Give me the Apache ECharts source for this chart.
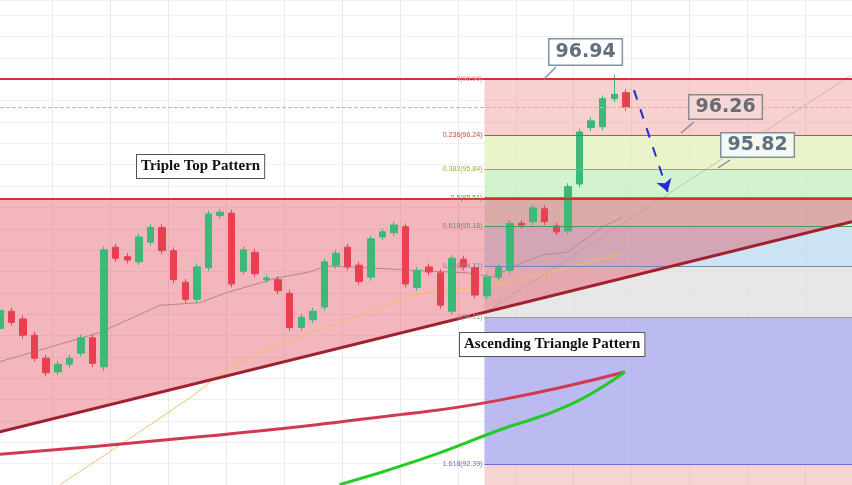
<!DOCTYPE html><html><head><meta charset="utf-8"><script src="https://cdn.jsdelivr.net/npm/echarts@6/dist/echarts.min.js"></script>
<style>html,body{margin:0;padding:0;background:#fff;overflow:hidden;width:852px;height:485px}#c{position:absolute;left:-6px;top:0;width:858px;height:485px}</style></head><body><div id="c"></div><script>
// OHLC: [open, close]
const openClose = [[93.98,94.19],[94.18,94.05],[94.09,93.90],[93.90,93.63],[93.63,93.46],[93.47,93.56],[93.56,93.63],[93.69,93.87],[93.87,93.57],[93.53,94.90],
[94.93,94.80],[94.82,94.78],[94.76,95.05],[94.99,95.16],[95.16,94.89],[94.89,94.55],[94.52,94.32],[94.32,94.70],[94.69,95.32],[95.30,95.34],
[95.33,94.50],[94.65,94.90],[94.87,94.62],[94.55,94.57],[94.55,94.42],[94.39,93.99],[93.99,94.11],[94.08,94.18],[94.23,94.76],[94.72,94.86],
[94.93,94.70],[94.72,94.53],[94.58,95.03],[95.05,95.11],[95.10,95.19],[95.17,94.50],[94.46,94.66],[94.70,94.64],[94.63,94.25],[94.18,94.80],
[94.79,94.70],[94.69,94.37],[94.36,94.58],[94.58,94.69],[94.66,95.21],[95.21,95.19],[95.23,95.39],[95.38,95.23],[95.18,95.11],[95.12,95.64],
[95.67,96.28],[96.33,96.41],[96.34,96.67],[96.67,96.72],[96.74,96.57]];
const wickExtra = 0.04;
const grayMA = [[0,93.59],[8.6,93.93],[13.8,94.25],[17.2,94.28],[19.6,94.40],[23.9,94.57],[26.7,94.64],[28.2,94.71],[31.6,94.69],[35.6,94.66],[40.3,94.63],[42.5,94.58],[44.2,94.70],[46.8,94.84],[48.9,94.87],[52,95.17],[53.7,95.28]];
const orangeMA = [[5.2,92.15],[16.1,93.14],[20.1,93.53],[25.9,93.88],[31.6,94.16],[35.9,94.37],[40.3,94.45],[42.8,94.49],[53.7,94.86]];
const redMA = [[-0.5,92.50],[17.2,92.71],[34.5,92.97],[43.1,93.14],[53.9,93.47]];
const greenMA = [[29.3,92.15],[36.2,92.44],[43.1,92.79],[49.1,93.08],[53.9,93.47]];
const fibLevels = [0,0.236,0.382,0.5,0.618,0.786,1,1.618];
const fibPrices = [96.90,96.24,95.84,95.51,95.18,94.71,94.11,92.39];
const fibColors = ['#e88','#d44','#aab030','#55a040','#4a9a60','#6a8ab0','#999','#6a6ad0'];
const fibFills = ['rgba(240,150,150,0.45)','rgba(225,240,180,0.7)','rgba(200,240,195,0.8)','rgba(190,225,200,0.6)','rgba(190,220,240,0.8)','rgba(225,225,225,0.8)','rgba(175,175,240,0.85)','rgba(240,170,170,0.5)'];
const resistance = 95.50, topLine = 96.90, currentPrice = 96.57;
const triStart = [-0.5,92.75], triEnd = [73.5,95.23];
const fibStart = 41.8, xMax = 73.5, yMin = 92.146, yMax = 97.825;
const dotted = [[41.8,94.16],[73.5,96.95]];
const arrow = [[54.7,96.77],[57.6,95.58]];
const cats = Array.from({length:74},(_,i)=>i);
const ohlc = openClose.map(([o,c])=>[o,c,Math.min(o,c)-wickExtra,Math.max(o,c)+wickExtra]);
ohlc[53][3]=96.95; ohlc[9][2]=93.48;

const fibAreas = fibPrices.map((p,i)=>[{xAxis:fibStart,yAxis:p},{xAxis:xMax,yAxis:i<fibPrices.length-1?fibPrices[i+1]:yMin,itemStyle:{color:fibFills[i]}}]);
const fibLines = fibPrices.map((p,i)=>[{coord:[fibStart,p],lineStyle:{color:fibColors[i]},label:{formatter:fibLevels[i]+'('+p.toFixed(2)+')',color:fibColors[i]}},{coord:[xMax,p]}]);

const chart = echarts.init(document.getElementById('c'));
const dx = 6;
chart.setOption({
 animation:false,
 grid:{left:0,right:0,top:0,bottom:0},
 xAxis:[{type:'category',data:cats,show:false,boundaryGap:true},
        {type:'value',min:-0.5,max:xMax,interval:5,axisLabel:{show:false},axisLine:{show:false},axisTick:{show:false},splitLine:{show:true,lineStyle:{color:'#eaeaea'}}}],
 yAxis:{type:'value',min:yMin,max:yMax,axisLabel:{show:false},axisLine:{show:false},axisTick:{show:false},splitLine:{show:true,lineStyle:{color:'#f0f0f0'}},interval:0.25},
 series:[
  {type:'line',xAxisIndex:1,data:[],markArea:{silent:true,data:fibAreas},
   markLine:{silent:true,symbol:'none',lineStyle:{type:'solid',width:1},label:{position:'start',fontSize:7,distance:2},data:fibLines}},
  {type:'custom',xAxisIndex:1,renderItem:(p,api)=>{
     const pts=[api.coord([triStart[0],resistance]),api.coord([triEnd[0],resistance]),api.coord(triEnd),api.coord(triStart)];
     return {type:'polygon',shape:{points:pts},style:{fill:'rgba(225,80,95,0.42)'}};
   },data:[0],z:1},
  {type:'line',xAxisIndex:1,data:[],markLine:{silent:true,symbol:'none',label:{show:false},data:[
     [{coord:[-0.5,topLine],lineStyle:{color:'#d83030',width:2,type:'solid'}},{coord:[xMax,topLine]}],
     [{coord:[-0.5,resistance],lineStyle:{color:'#d83030',width:2,type:'solid'}},{coord:[xMax,resistance]}],
     [{coord:[-0.5,currentPrice],lineStyle:{color:'#f0a0a0',width:1,type:'dashed'}},{coord:[xMax,currentPrice]}],
     [{coord:triStart,lineStyle:{color:'#a02030',width:3,type:'solid'}},{coord:triEnd}]
  ]}},
  {type:'line',xAxisIndex:1,data:grayMA,symbol:'none',lineStyle:{color:'#b08888',width:1},z:3},
  {type:'line',xAxisIndex:1,data:orangeMA,symbol:'none',smooth:true,lineStyle:{color:'#f0c060',width:1},z:3},
  {type:'line',xAxisIndex:1,data:redMA,symbol:'none',smooth:true,lineStyle:{color:'#d03a50',width:3},z:3},
  {type:'line',xAxisIndex:1,data:greenMA,symbol:'none',smooth:true,lineStyle:{color:'#22cc22',width:3},z:3},
  {type:'line',xAxisIndex:1,data:dotted,symbol:'none',lineStyle:{color:'#999',width:1,type:'dotted'},z:3},
  {type:'line',xAxisIndex:1,data:[],z:5,markLine:{silent:true,symbol:['none','arrow'],symbolSize:12,label:{show:false},
     lineStyle:{color:'#2030d0',width:2,type:[10,10]},data:[[{coord:arrow[0]},{coord:arrow[1]}]]}},
  {type:'candlestick',xAxisIndex:0,data:ohlc,barWidth:7,itemStyle:{color:'#3cb878',color0:'#e84050',borderColor:'#3cb878',borderColor0:'#e84050',borderWidth:1},z:4}
 ],
 graphic:[
  {type:'text',left:136+dx,top:154,z:10,style:{text:'Triple Top Pattern',font:'bold 15px "Liberation Serif"',fill:'#111',backgroundColor:'#fff',borderColor:'#555',borderWidth:1,padding:[4,4]}},
  {type:'text',left:459+dx,top:332,z:10,style:{text:'Ascending Triangle Pattern',font:'bold 15px "Liberation Serif"',fill:'#111',backgroundColor:'#fff',borderColor:'#555',borderWidth:1,padding:[4,4]}},
  {type:'text',left:548+dx,top:38,z:10,style:{text:'96.94',font:'bold 19px "DejaVu Sans"',fill:'#607080',backgroundColor:'#fff',borderColor:'#8090a0',borderWidth:1.5,padding:[3,6]}},
  {type:'line',z:10,shape:{x1:556+dx,y1:67,x2:544+dx,y2:79},style:{stroke:'#8090a0',lineWidth:1.5}},
  {type:'text',left:688+dx,top:94,z:10,style:{text:'96.26',font:'bold 19px "DejaVu Sans"',fill:'#6a6a70',backgroundColor:'rgba(245,215,215,1)',borderColor:'#8a8a90',borderWidth:1.5,padding:[2,6]}},
  {type:'line',z:10,shape:{x1:694+dx,y1:122,x2:681+dx,y2:133},style:{stroke:'#8a8a90',lineWidth:1.5}},
  {type:'text',left:720+dx,top:132,z:10,style:{text:'95.82',font:'bold 19px "DejaVu Sans"',fill:'#607080',backgroundColor:'#f4f8ee',borderColor:'#8090a0',borderWidth:1.5,padding:[2,6]}},
  {type:'line',z:10,shape:{x1:730+dx,y1:160,x2:718+dx,y2:168},style:{stroke:'#8090a0',lineWidth:1.5}}
 ]
});
</script></body></html>
